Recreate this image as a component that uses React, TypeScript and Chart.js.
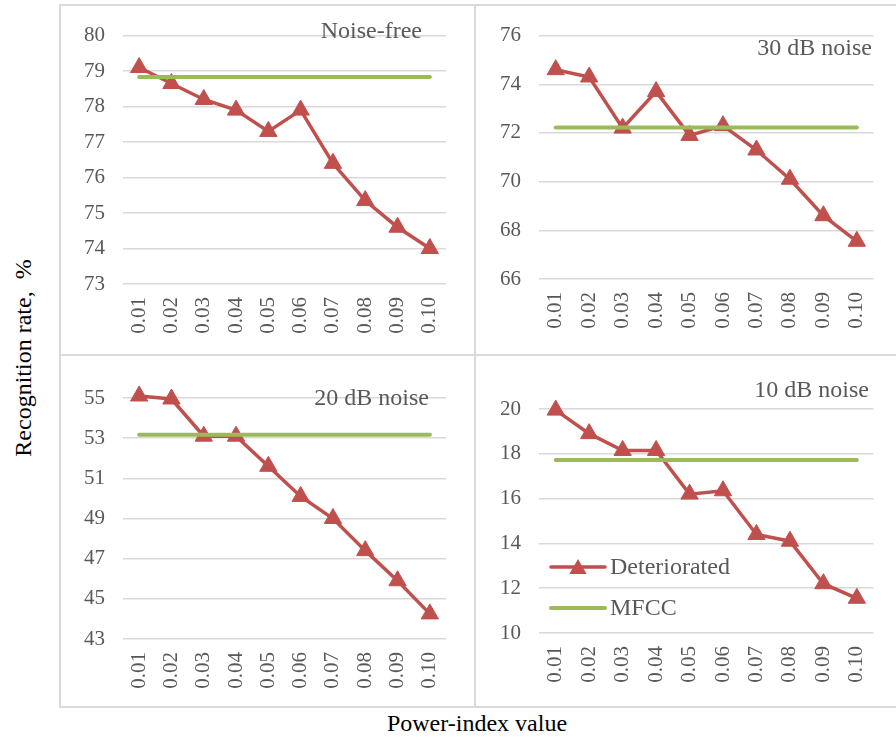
import React, { useEffect, useRef } from "react";
import { Chart, registerables } from "chart.js";

Chart.register(...registerables);

const FONT = "'Liberation Serif', 'Times New Roman', serif";
const RED = "#c0504d";
const GREEN = "#9bbb59";
const GRID = "#d9d9d9";
const TEXT = "#595959";

const powerIndex = ["0.01", "0.02", "0.03", "0.04", "0.05", "0.06", "0.07", "0.08", "0.09", "0.10"];

const deterioratedNoiseFree = [79.1, 78.65, 78.2, 77.9, 77.3, 77.9, 76.4, 75.35, 74.6, 74.0];
const mfccNoiseFree = [78.83, 78.83, 78.83, 78.83, 78.83, 78.83, 78.83, 78.83, 78.83, 78.83];

const deteriorated30dB = [74.6, 74.3, 72.2, 73.7, 71.9, 72.3, 71.3, 70.1, 68.6, 67.55];
const mfcc30dB = [72.22, 72.22, 72.22, 72.22, 72.22, 72.22, 72.22, 72.22, 72.22, 72.22];

const deteriorated20dB = [55.1, 54.95, 53.1, 53.1, 51.6, 50.1, 49.0, 47.4, 45.9, 44.25];
const mfcc20dB = [53.17, 53.17, 53.17, 53.17, 53.17, 53.17, 53.17, 53.17, 53.17, 53.17];

const deteriorated10dB = [19.95, 18.9, 18.15, 18.15, 16.2, 16.35, 14.4, 14.1, 12.2, 11.55];
const mfcc10dB = [17.72, 17.72, 17.72, 17.72, 17.72, 17.72, 17.72, 17.72, 17.72, 17.72];

const seriesNames = ["Deteriorated", "MFCC"];

type Panel = {
  title: string;
  left: number;
  top: number;
  width: number;
  height: number;
  yMin: number;
  yMax: number;
  yStep: number;
  area: { left: number; right: number; top: number; bottom: number };
  titleX: number;
  titleY: number;
  deteriorated: number[];
  mfcc: number[];
  legend?: boolean;
};

const panels: Panel[] = [
  {
    title: "Noise-free",
    left: 60, top: 5, width: 415, height: 350,
    yMin: 73, yMax: 80, yStep: 1,
    area: { left: 63, right: 386, top: 14, bottom: 279 },
    titleX: 362, titleY: 33,
    deteriorated: deterioratedNoiseFree, mfcc: mfccNoiseFree,
  },
  {
    title: "30 dB noise",
    left: 475, top: 5, width: 421, height: 350,
    yMin: 66, yMax: 76, yStep: 2,
    area: { left: 64, right: 402, top: 18, bottom: 274 },
    titleX: 397, titleY: 50,
    deteriorated: deteriorated30dB, mfcc: mfcc30dB,
  },
  {
    title: "20 dB noise",
    left: 60, top: 355, width: 415, height: 352,
    yMin: 43, yMax: 55, yStep: 2,
    area: { left: 63, right: 386, top: 43, bottom: 284 },
    titleX: 369, titleY: 50,
    deteriorated: deteriorated20dB, mfcc: mfcc20dB,
  },
  {
    title: "10 dB noise",
    left: 475, top: 355, width: 421, height: 352,
    yMin: 10, yMax: 20, yStep: 2,
    area: { left: 64, right: 402, top: 54, bottom: 278 },
    titleX: 394, titleY: 42,
    deteriorated: deteriorated10dB, mfcc: mfcc10dB,
    legend: true,
  },
];

function drawTriangle(ctx: CanvasRenderingContext2D, x: number, y: number, r: number) {
  ctx.beginPath();
  ctx.moveTo(x, y - r);
  ctx.lineTo(x + r * Math.sin((2 * Math.PI) / 3), y - r * Math.cos((2 * Math.PI) / 3));
  ctx.lineTo(x + r * Math.sin((4 * Math.PI) / 3), y - r * Math.cos((4 * Math.PI) / 3));
  ctx.closePath();
  ctx.fill();
}

const panelTextPlugin = {
  id: "panelText",
  afterDraw(chart: any, _args: any, opts: any) {
    const ctx: CanvasRenderingContext2D = chart.ctx;
    ctx.save();
    ctx.fillStyle = TEXT;
    ctx.font = `24px ${FONT}`;
    ctx.textAlign = "right";
    ctx.textBaseline = "alphabetic";
    ctx.fillText(opts.title, opts.titleX, opts.titleY);

    if (opts.legend) {
      const x1 = 76;
      const x2 = 130;
      const rows = [
        { y: 212, color: RED, width: 3.5, marker: true, label: seriesNames[0] },
        { y: 253, color: GREEN, width: 4, marker: false, label: seriesNames[1] },
      ];
      rows.forEach((row) => {
        ctx.strokeStyle = row.color;
        ctx.lineWidth = row.width;
        ctx.lineCap = "round";
        ctx.beginPath();
        ctx.moveTo(x1, row.y);
        ctx.lineTo(x2, row.y);
        ctx.stroke();
        if (row.marker) {
          ctx.fillStyle = row.color;
          drawTriangle(ctx, (x1 + x2) / 2, row.y + 2, 10);
        }
        ctx.fillStyle = TEXT;
        ctx.font = `24px ${FONT}`;
        ctx.textAlign = "left";
        ctx.textBaseline = "middle";
        ctx.fillText(row.label, x2 + 5, row.y + 1);
      });
    }
    ctx.restore();
  },
};

function PanelChart({ panel }: { panel: Panel }) {
  const ref = useRef<HTMLCanvasElement | null>(null);

  useEffect(() => {
    if (!ref.current) return;
    const p = panel;
    const chart = new Chart(ref.current, {
      type: "line",
      data: {
        labels: powerIndex,
        datasets: [
          {
            label: seriesNames[0],
            data: p.deteriorated,
            borderColor: RED,
            backgroundColor: RED,
            borderWidth: 3.5,
            pointStyle: "triangle",
            pointRadius: 10,
            pointBorderWidth: 1,
            pointBackgroundColor: RED,
            pointBorderColor: RED,
            tension: 0,
            clip: false,
            order: 2,
          },
          {
            label: seriesNames[1],
            data: p.mfcc,
            borderColor: GREEN,
            backgroundColor: GREEN,
            borderWidth: 4,
            pointRadius: 0,
            borderCapStyle: "round",
            tension: 0,
            clip: false,
            order: 1,
          },
        ],
      },
      options: {
        responsive: false,
        animation: false,
        events: [],
        layout: {
          padding: { top: p.area.top, right: p.width - p.area.right, left: 0, bottom: 0 },
        },
        plugins: {
          legend: { display: false },
          tooltip: { enabled: false },
          title: { display: false },
          panelText: {
            title: p.title,
            titleX: p.titleX,
            titleY: p.titleY,
            legend: !!p.legend,
          },
        } as any,
        scales: {
          x: {
            offset: true,
            grid: { display: false, drawTicks: false },
            border: { display: false },
            ticks: {
              color: TEXT,
              font: { family: FONT, size: 21 },
              maxRotation: 90,
              minRotation: 90,
              autoSkip: false,
              padding: 13,
            },
            afterFit: (scale: any) => {
              scale.height = p.height - p.area.bottom;
            },
          },
          y: {
            min: p.yMin,
            max: p.yMax,
            grid: { color: GRID, lineWidth: 1.5, drawTicks: false },
            border: { display: false },
            ticks: {
              stepSize: p.yStep,
              color: TEXT,
              font: { family: FONT, size: 21 },
              padding: 18,
            },
            afterFit: (scale: any) => {
              scale.width = p.area.left;
            },
          },
        },
      },
      plugins: [panelTextPlugin],
    });
    return () => chart.destroy();
  }, [panel]);

  return (
    <canvas
      ref={ref}
      width={panel.width}
      height={panel.height}
      style={{ position: "absolute", left: panel.left, top: panel.top, width: panel.width, height: panel.height }}
    />
  );
}

function Rule({ x, y, w, h }: { x: number; y: number; w: number; h: number }) {
  return <div style={{ position: "absolute", left: x, top: y, width: w, height: h, background: GRID }} />;
}

export default function App() {
  return (
    <div
      style={{
        position: "absolute",
        left: 0,
        top: 0,
        width: 896,
        height: 740,
        background: "#ffffff",
        overflow: "hidden",
        fontFamily: FONT,
      }}
    >
      {/* panel frames */}
      <Rule x={59} y={4} w={837} h={2} />
      <Rule x={59} y={354} w={837} h={2} />
      <Rule x={59} y={706} w={837} h={2} />
      <Rule x={59} y={4} w={2} h={704} />
      <Rule x={474} y={4} w={2} h={704} />

      {panels.map((p) => (
        <PanelChart key={p.title} panel={p} />
      ))}

      <div
        style={{
          position: "absolute",
          left: 23,
          top: 358,
          transform: "translate(-50%, -50%) rotate(-90deg)",
          whiteSpace: "nowrap",
          fontSize: 24,
          color: "#000",
          lineHeight: 1,
        }}
      >
        Recognition rate,&nbsp; %
      </div>
      <div
        style={{
          position: "absolute",
          left: 477,
          top: 723,
          transform: "translate(-50%, -50%)",
          whiteSpace: "nowrap",
          fontSize: 24,
          color: "#000",
          lineHeight: 1,
        }}
      >
        Power-index value
      </div>
    </div>
  );
}
